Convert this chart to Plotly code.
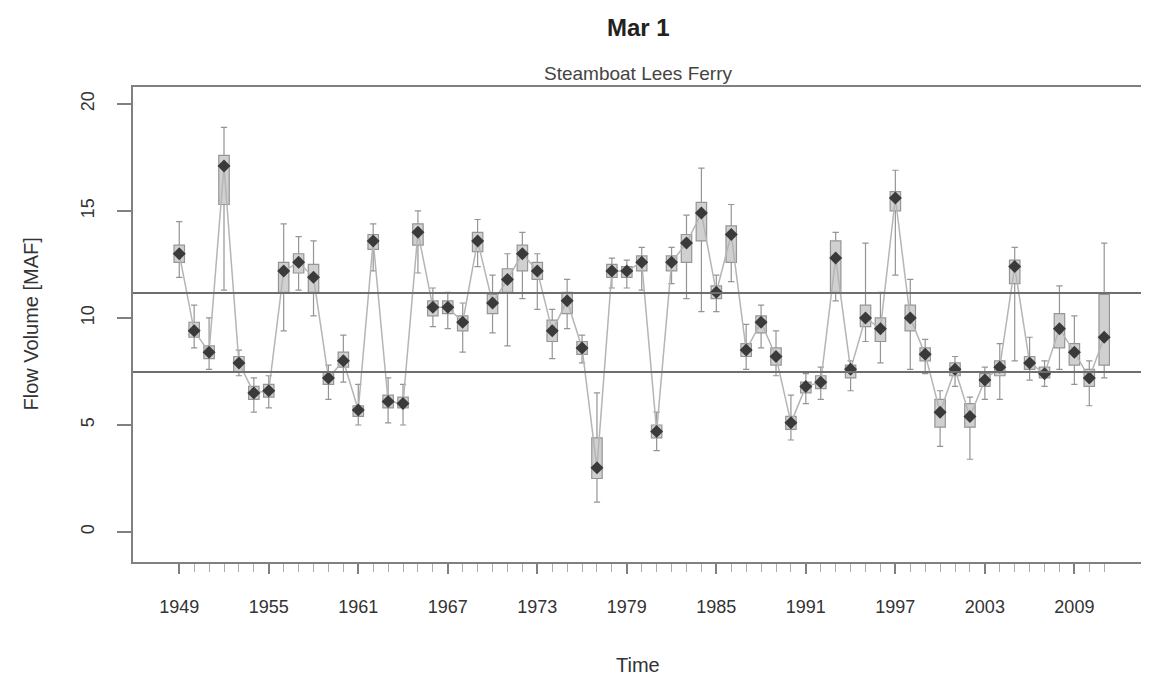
import plotly.graph_objects as go

years = list(range(1949, 2012))

median = [13.0, 9.4, 8.4, 17.1, 7.9, 6.5, 6.6, 12.2, 12.6, 11.9,
          7.2, 8.0, 5.7, 13.6, 6.1, 6.0, 14.0, 10.5, 10.5, 9.8,
          13.6, 10.7, 11.8, 13.0, 12.2, 9.4, 10.8, 8.6, 3.0, 12.2,
          12.2, 12.6, 4.7, 12.6, 13.5, 14.9, 11.2, 13.9, 8.5, 9.8,
          8.2, 5.1, 6.8, 7.0, 12.8, 7.6, 10.0, 9.5, 15.6, 10.0,
          8.3, 5.6, 7.6, 5.4, 7.1, 7.7, 12.4, 7.9, 7.4, 9.5,
          8.4, 7.2, 9.1]
q1 = [12.6, 9.1, 8.1, 15.3, 7.5, 6.2, 6.3, 11.2, 12.1, 11.2,
      6.9, 7.7, 5.4, 13.2, 5.8, 5.8, 13.4, 10.1, 10.2, 9.4,
      13.1, 10.2, 11.2, 12.2, 11.8, 8.9, 10.2, 8.3, 2.5, 11.9,
      11.9, 12.2, 4.4, 12.2, 12.6, 13.6, 10.9, 12.6, 8.2, 9.3,
      7.8, 4.8, 6.5, 6.7, 11.2, 7.2, 9.6, 8.9, 15.0, 9.4,
      8.0, 4.9, 7.3, 4.9, 6.8, 7.3, 11.6, 7.6, 7.2, 8.6,
      7.8, 6.8, 7.8]
q3 = [13.4, 9.8, 8.7, 17.6, 8.2, 6.8, 6.9, 12.6, 13.0, 12.5,
      7.5, 8.4, 5.9, 13.9, 6.4, 6.3, 14.4, 10.8, 10.8, 10.1,
      14.0, 11.1, 12.3, 13.4, 12.6, 9.9, 11.2, 8.9, 4.4, 12.5,
      12.4, 12.9, 5.0, 12.9, 13.9, 15.4, 11.5, 14.3, 8.8, 10.1,
      8.6, 5.4, 7.0, 7.3, 13.6, 7.8, 10.6, 10.0, 15.9, 10.6,
      8.6, 6.2, 7.9, 6.0, 7.4, 8.0, 12.7, 8.2, 7.7, 10.2,
      8.8, 7.6, 11.1]
low = [11.9, 8.6, 7.6, 11.3, 7.3, 5.6, 5.8, 9.4, 11.3, 10.1,
       6.2, 7.0, 5.0, 12.2, 5.1, 5.0, 12.1, 9.6, 9.5, 8.4,
       12.4, 9.3, 8.7, 10.9, 10.4, 8.1, 9.5, 7.9, 1.4, 11.4,
       11.4, 11.3, 3.8, 11.6, 10.9, 10.3, 10.3, 11.7, 7.6, 8.6,
       7.3, 4.3, 6.0, 6.2, 10.8, 6.6, 8.9, 7.9, 12.0, 7.6,
       7.4, 4.0, 6.8, 3.4, 6.2, 6.2, 8.0, 7.1, 6.8, 7.6,
       6.9, 5.9, 7.2]
high = [14.5, 10.6, 10.0, 18.9, 8.5, 7.2, 7.3, 14.4, 13.8, 13.6,
        7.8, 9.2, 6.9, 14.4, 7.2, 6.9, 15.0, 11.4, 11.2, 10.7,
        14.6, 12.0, 13.0, 14.0, 13.0, 10.4, 11.8, 9.2, 6.5, 12.8,
        12.7, 13.3, 5.6, 13.3, 14.8, 17.0, 12.0, 15.3, 9.7, 10.6,
        9.4, 6.4, 7.4, 7.7, 14.0, 8.0, 13.5, 11.2, 16.9, 11.8,
        9.0, 6.6, 8.2, 6.3, 7.7, 8.8, 13.3, 9.1, 8.0, 11.5,
        10.1, 8.0, 13.5]

ref_levels = [11.17, 7.48]
y_ticks = [0, 5, 10, 15, 20]
x_label_years = list(range(1949, 2012, 6))

fig = go.Figure()

fig.add_trace(go.Scatter(
    x=years, y=median, mode="lines",
    line=dict(color="#b5b5b5", width=1.5), hoverinfo="skip", showlegend=False))

fig.add_trace(go.Box(
    x=years, q1=q1, median=median, q3=q3, lowerfence=low, upperfence=high,
    width=0.7, whiskerwidth=0.6,
    fillcolor="#d0d0d0", line=dict(color="#959595", width=1.2),
    showlegend=False))

fig.add_trace(go.Scatter(
    x=years, y=median, mode="markers",
    marker=dict(symbol="diamond", size=10, color="#3a3a3a"),
    showlegend=False))

for lv in ref_levels:
    fig.add_hline(y=lv, line=dict(color="#6e6e6e", width=2))

fig.update_layout(
    width=1141, height=672,
    margin=dict(l=125, r=6, t=79, b=118, autoexpand=False),
    paper_bgcolor="white", plot_bgcolor="white",
    font=dict(family="Liberation Sans, Arial, sans-serif", color="#333333", size=18),
    annotations=[
        dict(text="<b>Mar 1</b>", xref="paper", yref="paper",
             x=0.5, y=1.0, yshift=60, showarrow=False, yanchor="middle",
             font=dict(size=24, color="#222222")),
        dict(text="Steamboat Lees Ferry", xref="paper", yref="paper",
             x=0.5, y=1.0, yshift=14, showarrow=False, yanchor="middle",
             font=dict(size=19, color="#444444")),
        dict(text="Time", xref="paper", yref="paper",
             x=0.5, y=0.0, yshift=-103, showarrow=False, yanchor="middle",
             font=dict(size=20, color="#333333")),
        dict(text="Flow Volume [MAF]", xref="paper", yref="paper",
             x=0.0, y=0.5, xshift=-103, showarrow=False, xanchor="center",
             yanchor="middle", textangle=-90,
             font=dict(size=20, color="#333333")),
    ],
)

fig.update_xaxes(
    range=[1945.9, 2013.6], showgrid=False, zeroline=False, automargin=False,
    showline=True, linecolor="#808080", linewidth=2, mirror=True,
    ticks="outside", ticklen=10, tickcolor="#808080", tickwidth=1.5,
    tickmode="array", tickvals=x_label_years,
    ticktext=[str(v) for v in x_label_years],
    ticklabelstandoff=17,
    minor=dict(tickmode="array", tickvals=years, ticks="outside",
               ticklen=8, tickcolor="#aaaaaa", tickwidth=1),
    tickfont=dict(size=18),
)

fig.update_yaxes(
    range=[-1.40, 20.79], showgrid=False, zeroline=False, automargin=False,
    showline=True, linecolor="#808080", linewidth=2, mirror=True,
    ticks="outside", ticklen=14, tickcolor="#808080", tickwidth=1.5,
    tickmode="array", tickvals=y_ticks, ticktext=[str(v) for v in y_ticks],
    tickangle=-90, tickfont=dict(size=18), ticklabelstandoff=16,
)

fig.write_html("out.html")
